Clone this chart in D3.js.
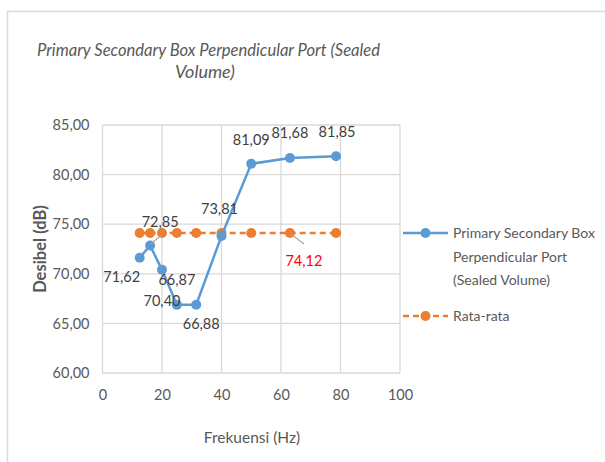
<!DOCTYPE html>
<html>
<head>
<meta charset="utf-8">
<script src="https://cdn.jsdelivr.net/npm/d3@7"></script>
<style>
  html, body { margin: 0; padding: 0; background: #fff; }
  svg { display: block; font-family: Lato, "Open Sans", sans-serif; }
</style>
</head>
<body>
<svg id="chart" width="605" height="462"></svg>
<script>
// Frequency points (Hz) and measured SPL (dB)
const frequencies = [12.5, 16, 20, 25, 31.5, 40, 50, 63, 78.5];
const levels = [71.62, 72.85, 70.40, 66.87, 66.88, 73.81, 81.09, 81.68, 81.85];
const averageLevel = 74.12;
const averageSeries = frequencies.map(() => averageLevel);
const xTicks = [0, 20, 40, 60, 80, 100];
const yTicks = [60, 65, 70, 75, 80, 85];
const seriesNames = ["Primary Secondary Box Perpendicular Port (Sealed Volume)", "Rata-rata"];

// label placement relative to each point (dx, dy)
const labelOffsets = [[-18, 19], [10, -24], [0, 31], [0, -25], [5, 19], [-2, -27], [0, -24], [0, -25], [1, -24]];

const svg = d3.select("#chart");
const blue = "#5b9bd5", orange = "#ed7d31", grid = "#d9d9d9", txt = "#595959";
const fmt = v => d3.format(".2f")(v).replace(".", ",");

// outer chart frame
svg.append("rect").attr("x", 7.5).attr("y", 11.5).attr("width", 620).attr("height", 470)
  .attr("fill", "#fff").attr("stroke", grid).attr("stroke-width", 1.5);

const x = d3.scaleLinear().domain([0, 100]).range([102.5, 400]);
const y = d3.scaleLinear().domain([60, 85]).range([373, 125]);

// title (two lines)
const title = svg.append("text").attr("fill", txt)
  .attr("font-size", 17.5).attr("font-style", "italic");
title.append("tspan").attr("x", 37).attr("y", 56).attr("textLength", 343)
  .attr("lengthAdjust", "spacingAndGlyphs").text("Primary Secondary Box Perpendicular Port (Sealed");
title.append("tspan").attr("x", 175).attr("y", 78).attr("textLength", 60)
  .attr("lengthAdjust", "spacingAndGlyphs").text("Volume)");

// gridlines
svg.append("g").selectAll("line").data(yTicks).join("line")
  .attr("x1", x(0)).attr("x2", x(100)).attr("y1", d => y(d)).attr("y2", d => y(d))
  .attr("stroke", grid).attr("stroke-width", 1.3);
svg.append("g").selectAll("line").data(xTicks).join("line")
  .attr("y1", y(60)).attr("y2", y(85)).attr("x1", d => x(d)).attr("x2", d => x(d))
  .attr("stroke", grid).attr("stroke-width", 1.3);

// axes (labels only)
const yAxis = svg.append("g").attr("transform", `translate(${x(0)},0)`)
  .call(d3.axisLeft(y).tickValues(yTicks).tickFormat(fmt).tickSize(0).tickPadding(13));
const xAxis = svg.append("g").attr("transform", `translate(0,${y(60)})`)
  .call(d3.axisBottom(x).tickValues(xTicks).tickSize(0).tickPadding(17));
[yAxis, xAxis].forEach(a => {
  a.select(".domain").remove();
  a.selectAll("text").attr("fill", txt).attr("font-size", 14.5).attr("font-family", "Lato, sans-serif");
});

// axis titles
svg.append("text").attr("transform", "translate(46,249) rotate(-90)")
  .attr("text-anchor", "middle").attr("fill", txt).attr("font-size", 16.5).attr("font-weight", "bold")
  .text("Desibel (dB)");
svg.append("text").attr("x", 252).attr("y", 443).attr("text-anchor", "middle")
  .attr("fill", txt).attr("font-size", 15.5).text("Frekuensi (Hz)");

const line = d3.line().x(d => x(d[0])).y(d => y(d[1]));

// average series
const avgPts = frequencies.map((f, i) => [f, averageSeries[i]]);
svg.append("path").datum(avgPts).attr("d", line).attr("fill", "none")
  .attr("stroke", orange).attr("stroke-width", 2.5).attr("stroke-dasharray", "6,4");
svg.append("g").selectAll("circle").data(avgPts).join("circle")
  .attr("cx", d => x(d[0])).attr("cy", d => y(d[1])).attr("r", 5).attr("fill", orange);

// measured series
const pts = frequencies.map((f, i) => [f, levels[i]]);
svg.append("path").datum(pts).attr("d", line).attr("fill", "none")
  .attr("stroke", blue).attr("stroke-width", 2.5);
svg.append("g").selectAll("circle").data(pts).join("circle")
  .attr("cx", d => x(d[0])).attr("cy", d => y(d[1])).attr("r", 5).attr("fill", blue);

// leader lines
const leader = (x1, y1, x2, y2) => svg.append("line").attr("x1", x1).attr("y1", y1)
  .attr("x2", x2).attr("y2", y2).attr("stroke", "#a6a6a6").attr("stroke-width", 1.2);
leader(x(frequencies[1]) + 1, y(levels[1]) - 2, x(frequencies[1]) + 11, y(levels[1]) - 10);
leader(x(frequencies[7]) + 1, y(averageLevel) + 1, x(frequencies[7]) + 14, y(averageLevel) + 11);

// data labels
svg.append("g").selectAll("text").data(pts).join("text")
  .attr("x", (d, i) => x(d[0]) + labelOffsets[i][0])
  .attr("y", (d, i) => y(d[1]) + labelOffsets[i][1])
  .attr("dy", "0.35em").attr("text-anchor", "middle").attr("fill", "#404040")
  .attr("font-size", 14.5).text(d => fmt(d[1]));

svg.append("text").attr("x", x(frequencies[7]) + 14).attr("y", y(averageLevel) + 28)
  .attr("dy", "0.35em").attr("text-anchor", "middle").attr("fill", "#ff0000")
  .attr("font-size", 14.5).text(fmt(averageLevel));

// legend
const lg = svg.append("g");
lg.append("line").attr("x1", 403).attr("x2", 448).attr("y1", 233).attr("y2", 233)
  .attr("stroke", blue).attr("stroke-width", 2.5);
lg.append("circle").attr("cx", 425.5).attr("cy", 233).attr("r", 5).attr("fill", blue);
const lt = lg.append("text").attr("fill", txt).attr("font-size", 14);
["Primary Secondary Box", "Perpendicular Port", "(Sealed Volume)"].forEach((s, i) =>
  lt.append("tspan").attr("x", 453).attr("y", 238 + i * 23.5).text(s));
lg.append("line").attr("x1", 403).attr("x2", 448).attr("y1", 316).attr("y2", 316)
  .attr("stroke", orange).attr("stroke-width", 2.5).attr("stroke-dasharray", "6,4");
lg.append("circle").attr("cx", 425.5).attr("cy", 316).attr("r", 5).attr("fill", orange);
lg.append("text").attr("x", 453).attr("y", 321).attr("fill", txt).attr("font-size", 14).text(seriesNames[1]);
</script>
</body>
</html>
